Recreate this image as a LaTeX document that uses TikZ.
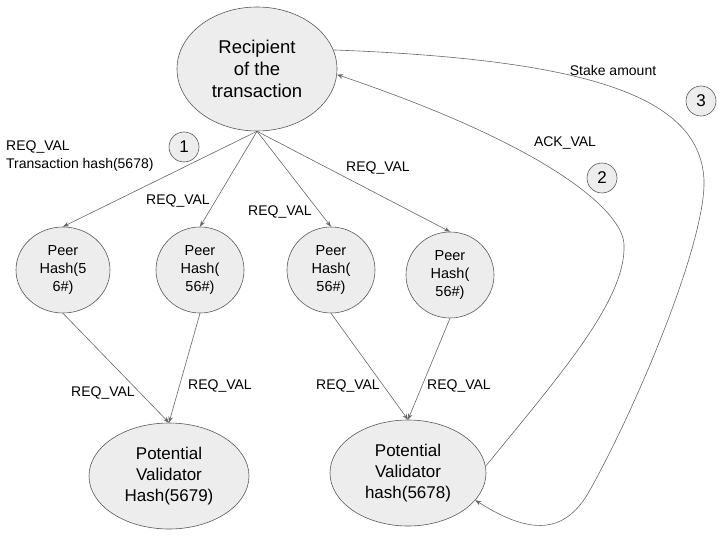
\documentclass[tikz,border=0pt]{standalone}
\usepackage{fontspec}
\setmainfont{Liberation Sans}
\usetikzlibrary{shapes.geometric,arrows.meta}

\begin{document}
\begin{tikzpicture}[x=1pt,y=-1pt,
    bubble/.style={ellipse,draw=black!65,fill=black!7,line width=0.6pt,inner sep=0,align=center},
    badge/.style={circle,draw=black!65,fill=black!7,line width=0.6pt,inner sep=0,minimum size=30pt,font=\badgefontsize},
    msg/.style={inner sep=0,font=\labelfontsize},
    link/.style={draw=black!60,line width=0.6pt,-{Stealth[length=6pt,width=4.5pt]}}]
    \pgfmathsetmacro{\peerwidth}{88}
    \pgfmathsetmacro{\peerheight}{86}
    \pgfmathsetmacro{\validatorheight}{106}
    \providecommand{\recipientfontsize}{\fontsize{18.5}{22}\selectfont}
    \providecommand{\validatorfontsize}{\fontsize{17}{21}\selectfont}
    \providecommand{\peerfontsize}{\fontsize{14.5}{18}\selectfont}
    \providecommand{\labelfontsize}{\fontsize{14}{18}\selectfont}
    \providecommand{\badgefontsize}{\fontsize{17}{20}\selectfont}
    \useasboundingbox (0,0) rectangle (723,540);
    % nodes
    \node[bubble,minimum width=160pt,minimum height=124pt,font=\recipientfontsize] (rec) at (257,69) {Recipient\\of the\\transaction};
    \node[bubble,minimum width=94pt,minimum height=\peerheight pt,font=\peerfontsize] (p1) at (63,270) {Peer\\Hash(5\\6\#)};
    \node[bubble,minimum width=\peerwidth pt,minimum height=\peerheight pt,font=\peerfontsize] (p2) at (200,270) {Peer\\Hash(\\56\#)};
    \node[bubble,minimum width=\peerwidth pt,minimum height=\peerheight pt,font=\peerfontsize] (p3) at (331,270) {Peer\\Hash(\\56\#)};
    \node[bubble,minimum width=\peerwidth pt,minimum height=\peerheight pt,font=\peerfontsize] (p4) at (450,275) {Peer\\Hash(\\56\#)};
    \node[bubble,minimum width=160pt,minimum height=\validatorheight pt,font=\validatorfontsize] (v1) at (169,476) {Potential\\Validator\\Hash(5679)};
    \node[bubble,minimum width=156pt,minimum height=\validatorheight pt,font=\validatorfontsize] (v2) at (408,473) {Potential\\Validator\\hash(5678)};
    \node[badge] (one) at (184,147) {1};
    \node[badge] (two) at (602,178) {2};
    \node[badge] (three) at (701,101) {3};
    % requests
    \draw[link] (rec.south) -- (p1.north);
    \draw[link] (rec.south) -- (p2.north);
    \draw[link] (rec.south) -- (p3.north);
    \draw[link] (rec.south) -- (p4.north);
    \draw[link] (p1.south) -- (v1.north);
    \draw[link] (p2.south) -- (v1.north);
    \draw[link] (p3.south) -- (v2.north);
    \draw[link] (p4.south) -- (v2.north);
    % replies
    \draw[link] (v2.5) .. controls (560,375) and (626,300) .. (624,245)
        .. controls (624,215) and (560,150) .. (rec.-4);
    \draw[link] (rec.14) .. controls (600,60) and (700,100) .. (704,180)
        .. controls (706,240) and (640,400) .. (590,490)
        .. controls (565,535) and (530,535) .. (v2.-22);
    % labels
    \node[msg,align=left,anchor=west] (note) at (6,156) {REQ\_VAL\\Transaction hash(5678)};
    \node[msg] (r2) at (178,201) {REQ\_VAL};
    \node[msg] (r3) at (280,212) {REQ\_VAL};
    \node[msg] (r4) at (378,168) {REQ\_VAL};
    \node[msg] (r5) at (103,393) {REQ\_VAL};
    \node[msg] (r6) at (220,386) {REQ\_VAL};
    \node[msg] (r7) at (348,386) {REQ\_VAL};
    \node[msg] (r8) at (459,386) {REQ\_VAL};
    \node[msg] (ack) at (565,143) {ACK\_VAL};
    \node[msg] (stake) at (613,70) {Stake amount};
\end{tikzpicture}
\end{document}
